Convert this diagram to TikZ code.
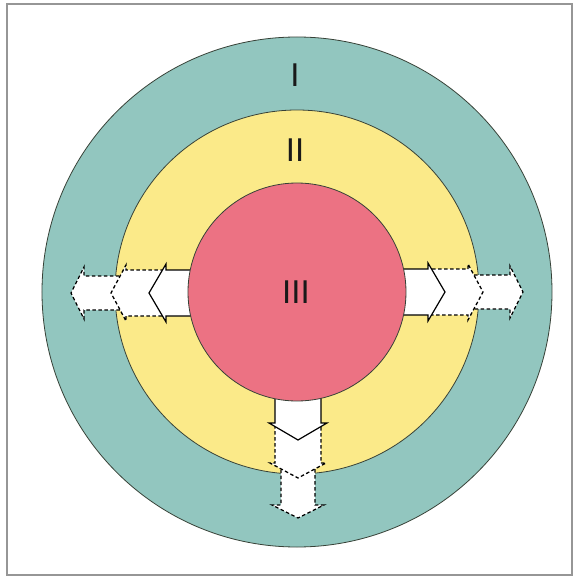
\documentclass[tikz,border=0pt]{standalone}
\usepackage{fontspec}
\setmainfont{Liberation Sans}
\definecolor{tealc}{RGB}{146,198,191}
\definecolor{yellowc}{RGB}{251,234,137}
\definecolor{pinkc}{RGB}{236,114,131}
\definecolor{ringline}{RGB}{55,65,55}
\definecolor{framegray}{RGB}{150,150,150}
\begin{document}
\begin{tikzpicture}[x=1pt,y=1pt,
  ring/.style={circle,draw=ringline,line width=0.8pt,inner sep=0pt},
  solidpart/.style={draw=black,fill=white,line width=1.2pt,line join=miter},
  dashpart/.style={draw=black,fill=white,line width=1.3pt,dash pattern=on 3.5pt off 2.5pt},
  numeral/.style={font=\fontsize{33}{33}\selectfont,text=black!90,inner sep=0pt},
  flowarrow/.pic={
    \path[dashpart] (177,17) -- (213,17) -- (213,26) -- (226,0) -- (213,-26) -- (213,-17) -- (177,-17);
    \path[dashpart] (135,23) -- (171,23) -- (171,28) -- (186,0) -- (171,-28) -- (171,-23) -- (135,-23);
    \path[solidpart] (90,23) -- (131,23) -- (131,29) -- (148,0) -- (131,-29) -- (131,-23) -- (90,-23);
  }]
\useasboundingbox (-297,-289) rectangle (282,292);
\fill[white] (-297,-289) rectangle (282,292);
\draw[framegray,line width=1.5pt] (-290,-283) rectangle (275,288);
\node[ring,fill=tealc,minimum size=510pt] (outer) at (0,0) {};
\node[ring,fill=yellowc,minimum size=364pt] (middle) at (0,0) {};
\pic[rotate=0] at (0,0) {flowarrow};
\pic[rotate=180] at (0,-1) {flowarrow};
\pic[rotate=-90] at (1,0) {flowarrow};
\node[ring,fill=pinkc,minimum size=218pt] (inner) at (0,0) {};
\node[numeral] (l1) at (-2,217) {I};
\node[numeral] (l2) at (-2,142) {II};
\node[numeral] (l3) at (-1,0) {III};
\end{tikzpicture}
\end{document}
